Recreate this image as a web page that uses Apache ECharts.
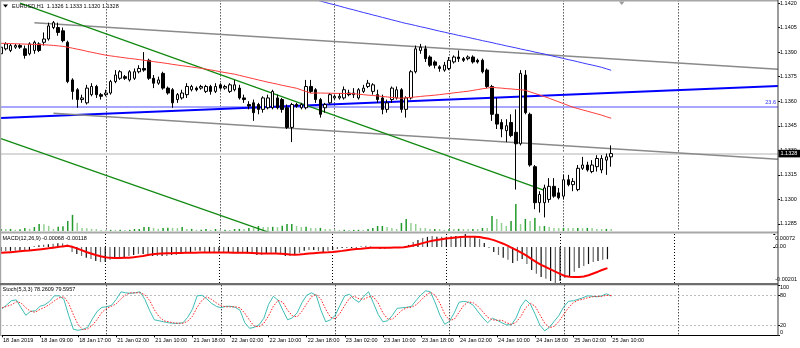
<!DOCTYPE html>
<html><head><meta charset="utf-8">
<script src="https://cdn.jsdelivr.net/npm/echarts@6/dist/echarts.min.js"></script>
<style>html,body{margin:0;padding:0;background:#fff}#c{width:800px;height:348px}</style>
</head><body><div id="c"></div>
<script>
// ---------- DATA ----------
const symbolTitle = 'EURUSD,H1  1.1326 1.1333 1.1320 1.1328';
const macdTitle = 'MACD(12,26,9) -0.00068 -0.00118';
const stochTitle = 'Stoch(5,3,3) 78.2609 79.5957';
const timeLabels = ['18 Jan 2019','18 Jan 09:00','18 Jan 17:00','21 Jan 02:00','21 Jan 10:00','21 Jan 18:00','22 Jan 02:00','22 Jan 10:00','22 Jan 18:00','23 Jan 02:00','23 Jan 10:00','23 Jan 18:00','24 Jan 02:00','24 Jan 10:00','24 Jan 18:00','25 Jan 02:00','25 Jan 10:00'];
const barsPerLabel = 8;
const slotCount = 164;          // visible bar slots incl. empty space on the right
const gridStartBar = 22, gridEveryBars = 24;
const priceTicks = [1.1285,1.1300,1.1315,1.1330,1.1345,1.1360,1.1375,1.1390,1.1405,1.1420];
const priceMin = 1.12807, priceMax = 1.14216;
const macdTicks = [0.00072, 0, -0.00201];
const macdTickLabels = ['0.00072','0.00','-0.00201'];
const macdMin = -0.00201, macdMax = 0.00072;
const stochTicks = [100, 80, 20, 0];
const stochLevels = [80, 20];
const fibLevel = 1.13565, fibLabel = '23.6';
const volumeAxisMax = 25000;

// open, high, low, close
const ohlc = [
[1.1389,1.1394,1.1388,1.1393],[1.1392,1.1396,1.1391,1.1395],[1.1391,1.1395,1.1390,1.1394],[1.1393,1.1395,1.1392,1.1394],[1.1394,1.1395,1.1392,1.1393],
[1.1392,1.1394,1.1386,1.1388],[1.1389,1.1396,1.1388,1.1395],[1.1391,1.1397,1.1389,1.1396],[1.1395,1.1396,1.1390,1.1391],[1.1396,1.1402,1.1394,1.1398],
[1.1398,1.1408,1.1397,1.1406],[1.1405,1.1409,1.1404,1.1408],[1.1405,1.1408,1.1400,1.1402],[1.1403,1.1405,1.1396,1.1397],[1.1396,1.1397,1.1371,1.1372],
[1.1373,1.1374,1.1361,1.1366],[1.1367,1.1368,1.1356,1.1361],[1.1361,1.1364,1.1359,1.1362],[1.1359,1.1370,1.1358,1.1368],[1.1364,1.1371,1.1363,1.1369],
[1.1369,1.1370,1.1362,1.1364],[1.1364,1.1365,1.1361,1.1363],[1.1364,1.1367,1.1363,1.1365],[1.1365,1.1373,1.1364,1.1372],[1.1372,1.1379,1.1371,1.1376],
[1.1374,1.1379,1.1373,1.1378],[1.1375,1.1376,1.1373,1.1374],[1.1373,1.1379,1.1372,1.1378],[1.1374,1.1380,1.1373,1.1378],[1.1378,1.1382,1.1377,1.1380],
[1.1380,1.1390,1.1378,1.1379],[1.1385,1.1386,1.1373,1.1374],[1.1374,1.1376,1.1368,1.1371],[1.1371,1.1375,1.1370,1.1373],[1.1377,1.1378,1.1367,1.1368],
[1.1368,1.1369,1.1364,1.1365],[1.1367,1.1368,1.1356,1.1359],[1.1361,1.1365,1.1359,1.1364],[1.1362,1.1367,1.1361,1.1365],[1.1364,1.1371,1.1362,1.1369],
[1.1367,1.1370,1.1366,1.1369],[1.1368,1.1369,1.1366,1.1367],[1.1368,1.1370,1.1367,1.1369],[1.1366,1.1370,1.1365,1.1369],[1.1369,1.1370,1.1364,1.1366],
[1.1366,1.1371,1.1365,1.1369],[1.1370,1.1371,1.1367,1.1368],[1.1368,1.1370,1.1367,1.1369],[1.1366,1.1371,1.1365,1.1370],[1.1367,1.1373,1.1366,1.1370],
[1.1368,1.1370,1.1361,1.1362],[1.1362,1.1364,1.1359,1.1361],[1.1358,1.1360,1.1355,1.1357],[1.1359,1.1361,1.1348,1.1353],[1.1358,1.1359,1.1352,1.1355],
[1.1355,1.1363,1.1353,1.1362],[1.1356,1.1364,1.1355,1.1362],[1.1356,1.1367,1.1355,1.1366],[1.1362,1.1364,1.1355,1.1356],[1.1361,1.1362,1.1353,1.1355],
[1.1356,1.1358,1.1343,1.1344],[1.1344,1.1359,1.1335,1.1358],[1.1358,1.1359,1.1356,1.1357],[1.1356,1.1359,1.1355,1.1358],[1.1356,1.1373,1.1355,1.1369],
[1.1369,1.1373,1.1365,1.1366],[1.1367,1.1368,1.1359,1.1361],[1.1361,1.1362,1.1350,1.1352],[1.1356,1.1359,1.1353,1.1358],[1.1359,1.1365,1.1358,1.1364],
[1.1362,1.1364,1.1361,1.1363],[1.1362,1.1365,1.1361,1.1363],[1.1362,1.1369,1.1361,1.1367],[1.1365,1.1367,1.1363,1.1364],[1.1364,1.1368,1.1362,1.1365],
[1.1362,1.1368,1.1361,1.1367],[1.1366,1.1370,1.1365,1.1368],[1.1369,1.1373,1.1368,1.1371],[1.1366,1.1371,1.1364,1.1370],[1.1364,1.1367,1.1359,1.1361],
[1.1362,1.1364,1.1352,1.1355],[1.1355,1.1361,1.1353,1.1359],[1.1361,1.1369,1.1359,1.1368],[1.1362,1.1369,1.1361,1.1367],[1.1367,1.1368,1.1353,1.1355],
[1.1355,1.1363,1.1350,1.1362],[1.1362,1.1379,1.1361,1.1378],[1.1378,1.1394,1.1377,1.1392],[1.1391,1.1395,1.1389,1.1393],[1.1392,1.1394,1.1384,1.1386],
[1.1387,1.1388,1.1381,1.1382],[1.1384,1.1385,1.1380,1.1382],[1.1381,1.1382,1.1378,1.1380],[1.1379,1.1384,1.1378,1.1382],[1.1380,1.1387,1.1379,1.1385],
[1.1384,1.1388,1.1383,1.1387],[1.1387,1.1391,1.1384,1.1386],[1.1386,1.1387,1.1384,1.1385],[1.1386,1.1388,1.1385,1.1387],[1.1387,1.1388,1.1383,1.1384],
[1.1385,1.1386,1.1383,1.1384],[1.1385,1.1386,1.1377,1.1378],[1.1379,1.1380,1.1368,1.1369],[1.1369,1.1370,1.1348,1.1352],[1.1352,1.1362,1.1343,1.1346],
[1.1347,1.1349,1.1338,1.1343],[1.1342,1.1349,1.1335,1.1345],[1.1347,1.1352,1.1338,1.1339],[1.1341,1.1355,1.1306,1.1334],[1.1334,1.1379,1.1333,1.1377],
[1.1376,1.1379,1.1352,1.1353],[1.1352,1.1353,1.1320,1.1321],[1.1320,1.1321,1.1294,1.1298],[1.1298,1.1305,1.1292,1.1303],[1.1298,1.1309,1.1289,1.1307],
[1.1300,1.1313,1.1298,1.1308],[1.1308,1.1313,1.1301,1.1302],[1.1304,1.1307,1.1300,1.1301],[1.1302,1.1315,1.1300,1.1312],[1.1312,1.1315,1.1308,1.1309],
[1.1309,1.1313,1.1305,1.1311],[1.1306,1.1321,1.1305,1.1319],[1.1319,1.1326,1.1318,1.1321],[1.1321,1.1323,1.1317,1.1318],[1.1317,1.1324,1.1316,1.1321],
[1.1320,1.1327,1.1317,1.1325],[1.1318,1.1327,1.1316,1.1325],[1.1324,1.1328,1.1315,1.1326],[1.1326,1.1333,1.1320,1.1328]
];

const volumes = [
220,210,230,120,200,330,240,430,760,740,
560,230,450,520,1080,1750,880,330,310,230,
210,120,110,130,120,140,110,120,220,230,
430,440,330,240,320,340,330,310,430,220,
230,120,130,210,110,220,120,130,110,220,
230,210,330,320,540,440,430,450,420,560,
760,770,540,430,450,330,320,340,230,220,
120,110,130,110,120,130,110,220,330,540,
550,440,330,220,870,1300,880,760,330,320,
220,230,210,120,220,210,230,220,210,230,
220,330,320,1620,1300,870,540,1080,2920,760,
1300,1080,1400,540,550,430,330,320,340,330,
320,330,310,330,320,220,210,230,220
];

const maRed = [
1.13954,1.13953,1.13952,1.13951,1.1395,1.13949,1.13948,1.13947,1.13946,1.13945,
1.13943,1.13941,1.13938,1.13935,1.1393,
1.13924,1.13918,1.13912,1.13905,1.13899,1.13893,1.13887,1.13881,
1.13877,1.13873,1.13869,1.13865,1.13861,1.13858,1.13854,1.1385,
1.13846,1.13842,1.13838,1.13834,1.1383,1.13825,1.13821,1.13817,1.13813,1.13809,1.13805,1.13801,
1.13796,1.13791,1.13786,1.1378,1.13775,1.1377,1.13765,
1.13758,1.13751,1.13744,1.13737,1.1373,1.13723,1.13716,
1.1371,1.13704,1.13697,1.13691,1.13685,1.13679,
1.13669,1.13659,1.13649,
1.1365,1.1365,1.13649,1.13649,1.13648,1.13648,1.13647,1.13647,
1.13646,1.13643,1.1364,1.13637,1.13635,1.13632,1.13629,1.13626,1.13623,1.1362,1.13618,
1.13621,1.13623,1.13626,1.13629,1.13632,1.13634,1.13637,
1.1364,1.13644,1.13647,1.13651,1.13654,1.13658,1.13661,
1.13666,1.13671,1.13676,1.1368,1.13685,
1.13682,1.1368,1.13677,1.13675,1.13672,1.1367,1.13667,
1.13657,1.13647,1.13638,1.13628,1.13618,
1.13607,1.13596,1.13585,1.13574,1.13563,
1.13555,1.13547,1.13539,1.13531,1.13523,1.13515,
1.13505,1.13496
];

const maBlueStart = 55;
const maBlue = [
1.14304,1.14296,1.14288,1.14281,1.14273,1.14265,1.14258,1.1425,1.14243,1.14235,
1.14227,1.1422,1.14212,1.14204,1.14196,1.14189,1.14181,1.14173,1.14165,1.14158,
1.1415,1.14142,1.14135,1.14127,1.1412,1.14112,1.14105,1.14097,1.1409,1.14082,
1.14075,1.14069,1.14062,1.14055,1.14049,1.14042,1.14035,1.14028,1.14022,1.14015,
1.14009,1.14002,1.13996,1.1399,1.13983,1.13977,1.1397,1.13964,1.13958,1.13951,
1.13945,1.13938,1.13932,1.13926,1.13919,1.13913,1.13907,1.139,1.13894,1.13888,
1.13881,1.13874,1.13868,1.13861,1.13854,1.13848,1.13841,1.13834,1.13827,1.13821,
1.13814,1.13807,1.13798,1.13789
];

const macdMain = [
-0.00024,-0.00023,-0.00022,-0.00021,-0.0002,-0.0002,-0.00018,0.00005,0.0001,0.00012,
0.00015,0.00018,0.0002,0.0002,0.00012,-0.00028,-0.00039,-0.0005,-0.00061,-0.00067,
-0.00078,-0.00084,-0.00084,-0.00072,-0.00061,-0.00056,-0.00056,-0.0005,-0.00045,-0.00039,
-0.00039,-0.00045,-0.0005,-0.0005,-0.0005,-0.0005,-0.00045,-0.00045,-0.00039,-0.00033,
-0.00028,-0.00022,-0.00022,-0.00028,-0.00028,-0.00028,-0.00028,-0.0003,-0.0003,-0.00033,
-0.00033,-0.00035,-0.00037,-0.00039,-0.00045,-0.00045,-0.00039,-0.00033,-0.00033,-0.00039,
-0.0005,-0.0005,-0.00045,-0.00033,-0.00022,-0.00017,-0.00017,-0.00022,-0.00028,-0.00022,
-0.00017,-0.00011,-0.00006,-0.00006,-0.00006,-0.00006,0.00002,0.00006,0.00002,-0.00006,
-0.00011,-0.00011,-0.00006,-0.00006,-0.00006,0,0.00011,0.00028,0.00039,0.0005,
0.00056,0.00061,0.00056,0.00056,0.00056,0.00061,0.00061,0.00061,0.00072,0.00061,
0.00056,0.00045,0.00022,-0.00006,-0.00028,-0.00045,-0.00061,-0.00072,-0.00089,-0.00078,
-0.00067,-0.00095,-0.00128,-0.0015,-0.00167,-0.00178,-0.0019,-0.00201,-0.0019,-0.00173,
-0.00162,-0.00139,-0.00117,-0.00106,-0.00095,-0.00084,-0.00078,-0.00072,-0.00068
];

const macdSignal = [
-0.00033,-0.00031,-0.00029,-0.00027,-0.00024,-0.00022,-0.0002,-0.00017,-0.00014,-0.00011,
-0.00008,-0.00004,-0.00001,0.00003,0.00006,0.00001,-0.00008,-0.00018,-0.00028,-0.00037,
-0.00045,-0.00052,-0.00058,-0.00061,-0.00062,-0.00062,-0.00061,-0.0006,-0.00058,-0.00054,
-0.0005,-0.00045,-0.00041,-0.00038,-0.00036,-0.00035,-0.00035,-0.00034,-0.00034,-0.00033,
-0.00033,-0.00032,-0.00031,-0.00031,-0.00031,-0.00031,-0.00031,-0.00031,-0.00031,-0.00032,
-0.00032,-0.00033,-0.00033,-0.00034,-0.00035,-0.00036,-0.00037,-0.00037,-0.00037,-0.00038,
-0.0004,-0.00042,-0.00043,-0.00042,-0.0004,-0.00037,-0.00035,-0.00033,-0.00031,-0.0003,
-0.00028,-0.00025,-0.00022,-0.00018,-0.00015,-0.00012,-0.0001,-0.00007,-0.00005,-0.00004,
-0.00004,-0.00004,-0.00004,-0.00003,-0.00003,-0.00002,0.00002,0.00008,0.00014,0.00021,
0.00028,0.00034,0.00039,0.00043,0.00047,0.0005,0.00053,0.00055,0.00057,0.00057,
0.00057,0.00055,0.0005,0.00045,0.00038,0.00028,0.00018,0.00006,-0.00008,-0.0002,
-0.00035,-0.0005,-0.00068,-0.00085,-0.001,-0.00112,-0.00125,-0.00138,-0.0015,-0.00162,
-0.00166,-0.00167,-0.00167,-0.00165,-0.00158,-0.00148,-0.00138,-0.00127,-0.00118
];

const stochMain = [
53,61,69,71,55,40,48,49,58,61,
68,79,79,72,40,12,10,12,16,33,
48,56,57,60,72,87,85,84,85,87,
72,50,31,29,27,25,24,24,25,36,
52,79,80,73,64,58,55,58,58,56,
50,25,14,16,21,34,62,78,70,50,
31,35,45,65,80,85,80,50,27,31,
40,60,79,82,72,66,78,87,65,42,
27,29,40,54,55,56,58,70,81,89,
87,65,40,22,28,45,66,68,66,60,
47,35,25,34,30,25,21,21,35,58,
71,62,42,20,9,16,28,40,57,68,
69,72,75,79,78,77,79,83,78.2609
];

const stochSignal = [
55,58,61,67,65,55,48,46,52,56,
62,69,75,77,64,41,21,11,13,20,
32,46,54,58,63,73,81,85,85,85,
81,70,51,37,29,27,25,24,24,28,
38,56,70,77,72,65,59,57,57,57,
55,44,30,18,17,24,39,58,70,66,
50,39,37,48,63,77,82,72,52,36,
33,44,60,74,78,73,72,77,77,65,
45,33,32,41,50,55,56,61,70,80,
86,80,64,42,30,32,46,60,67,65,
58,47,36,31,30,30,25,22,26,38,
55,64,58,41,24,15,18,28,42,55,
65,70,72,75,77,78,78,80,79.5957
];

// drawn objects: [bar slot, price]
const trendBlue = [[0, 1.13497], [163, 1.13693]];
const channelUpper = [[7, 1.14080], [163, 1.13795]];
const channelLower = [[11, 1.13527], [163, 1.13246]];
const greenUpper = [[4, 1.14199], [114, 1.13055]];
const greenLower = [[0, 1.13371], [60, 1.12760]];

// ---------- CHART ----------
const FONT = '"Liberation Sans", Arial, sans-serif';
const FS = 5.5;
const categories = Array.from({length: slotCount}, (_, i) => String(i));
const isLabelSlot = i => i % barsPerLabel === 0 && i / barsPerLabel < timeLabels.length;
const candleData = ohlc.map(d => [d[0], d[3], d[2], d[1]]);
const volData = volumes.map((v, i) => ({value: v, itemStyle: {color: (i > 0 && v < volumes[i-1]) ? '#92d092' : '#22992a'}}));
const macdData = macdMain.map((v, i) => ({value: v, itemStyle: {color: i % 2 ? '#6a6a6a' : '#111111'}}));
const blueData = ohlc.map((_, i) => i >= maBlueStart ? maBlue[i - maBlueStart] : null);
const lastClose = ohlc[ohlc.length - 1][3];

const grids = [
  {left: 1, right: 22, top: 0, height: 231},
  {left: 1, right: 22, top: 234, height: 49},
  {left: 1, right: 22, top: 285.3, height: 50}
];

function xAxisFor(gi, showLabels) {
  return {
    type: 'category', gridIndex: gi, data: categories, boundaryGap: false, show: true,
    axisLine: {show: showLabels, lineStyle: {color: '#000', width: 1}},
    axisTick: {show: showLabels, length: 2, interval: (i) => isLabelSlot(i), lineStyle: {color: '#000'}},
    axisLabel: {show: showLabels, interval: (i) => isLabelSlot(i), align: 'left', margin: 2, padding: [0,0,0,1],
      fontSize: FS, fontFamily: FONT, color: '#000',
      formatter: (v, i) => isLabelSlot(Number(v)) ? timeLabels[Number(v) / barsPerLabel] : ''},
    splitLine: {show: true, interval: (i) => i >= gridStartBar && (i - gridStartBar) % gridEveryBars === 0,
      lineStyle: {color: '#000', width: 1, type: [1, 2]}}
  };
}

const labelStyle = {fontSize: FS, fontFamily: FONT, color: '#000'};

const option = {
  animation: false,
  backgroundColor: '#fff',
  grid: grids,
  xAxis: [xAxisFor(0, false), xAxisFor(1, false), xAxisFor(2, true)],
  yAxis: [
    {type: 'value', gridIndex: 0, position: 'right', min: priceMin, max: priceMax,
      axisLine: {show: false}, splitLine: {show: false},
      axisTick: {show: true, length: 2, customValues: priceTicks, lineStyle: {color: '#000'}},
      axisLabel: Object.assign({customValues: priceTicks, margin: 2, formatter: v => v.toFixed(4)}, labelStyle)},
    {type: 'value', gridIndex: 0, min: 0, max: volumeAxisMax, show: false},
    {type: 'value', gridIndex: 1, position: 'right', min: macdMin, max: macdMax,
      axisLine: {show: false}, splitLine: {show: false},
      axisTick: {show: true, length: 2, customValues: macdTicks, lineStyle: {color: '#000'}},
      axisLabel: Object.assign({customValues: macdTicks, margin: 2,
        formatter: v => {
          const k = macdTicks.findIndex(t => Math.abs(t - v) < 1e-9);
          const s = k >= 0 ? macdTickLabels[k] : '';
          return k === 0 ? '{t|' + s + '}' : (k === macdTicks.length - 1 ? '{b|' + s + '}' : s);
        },
        rich: {t: Object.assign({padding: [8,0,0,0]}, labelStyle), b: Object.assign({padding: [0,0,7,0]}, labelStyle)}}, labelStyle)},
    {type: 'value', gridIndex: 2, position: 'right', min: 0, max: 100,
      axisLine: {show: false}, splitLine: {show: false},
      axisTick: {show: true, length: 2, customValues: stochTicks, lineStyle: {color: '#000'}},
      axisLabel: Object.assign({customValues: stochTicks, margin: 2,
        formatter: v => v === 100 ? '{t|100}' : (v === 0 ? '{b|0}' : String(v)),
        rich: {t: Object.assign({padding: [5,0,0,0]}, labelStyle), b: Object.assign({padding: [0,0,6,0]}, labelStyle)}}, labelStyle)}
  ],
  series: [
    {type: 'bar', name: 'Volume', xAxisIndex: 0, yAxisIndex: 1, data: volData, barWidth: 1.5, z: 1, silent: true},
    {type: 'line', name: 'Trend', xAxisIndex: 0, yAxisIndex: 0, data: trendBlue, symbol: 'none', clip: true, z: 2,
      lineStyle: {color: '#0000ff', width: 2}, silent: true},
    {type: 'line', name: 'ChannelUpper', xAxisIndex: 0, yAxisIndex: 0, data: channelUpper, symbol: 'none', clip: true, z: 2,
      lineStyle: {color: '#8a8a8a', width: 1.5}, silent: true},
    {type: 'line', name: 'ChannelLower', xAxisIndex: 0, yAxisIndex: 0, data: channelLower, symbol: 'none', clip: true, z: 2,
      lineStyle: {color: '#8a8a8a', width: 1.5}, silent: true},
    {type: 'line', name: 'GreenUpper', xAxisIndex: 0, yAxisIndex: 0, data: greenUpper, symbol: 'none', clip: true, z: 2,
      lineStyle: {color: '#128a12', width: 1.3}, silent: true},
    {type: 'line', name: 'GreenLower', xAxisIndex: 0, yAxisIndex: 0, data: greenLower, symbol: 'none', clip: true, z: 2,
      lineStyle: {color: '#128a12', width: 1.3}, silent: true},
    {type: 'candlestick', name: 'EURUSD', xAxisIndex: 0, yAxisIndex: 0, data: candleData, barWidth: 3, z: 3,
      itemStyle: {color: '#fff', color0: '#000', borderColor: '#000', borderColor0: '#000', borderWidth: 1}, silent: true,
      markLine: {silent: true, symbol: ['none', 'none'], animation: false, z: 1, precision: 6,
        data: [
          {yAxis: lastClose, lineStyle: {color: '#d9d9d9', width: 2, type: 'solid'}, label: {show: false}},
          {yAxis: fibLevel, lineStyle: {color: '#8a8aff', width: 1.5, type: 'solid'},
            label: {show: true, position: 'insideEndTop', formatter: fibLabel, color: '#2f2fff', fontSize: FS, fontFamily: FONT, distance: [2, 1]}}
        ]}},
    {type: 'line', name: 'MA red', xAxisIndex: 0, yAxisIndex: 0, data: maRed, symbol: 'none', z: 4,
      lineStyle: {color: '#ff3a3a', width: 1}, silent: true},
    {type: 'line', name: 'MA blue', xAxisIndex: 0, yAxisIndex: 0, data: blueData, symbol: 'none', z: 4, clip: true,
      lineStyle: {color: '#3a3aff', width: 1}, silent: true},
    {type: 'bar', name: 'MACD', xAxisIndex: 1, yAxisIndex: 2, data: macdData, barWidth: 1.2, silent: true},
    {type: 'line', name: 'Signal', xAxisIndex: 1, yAxisIndex: 2, data: macdSignal, symbol: 'none', z: 3,
      lineStyle: {color: '#ff0000', width: 2}, silent: true},
    {type: 'line', name: 'Stoch main', xAxisIndex: 2, yAxisIndex: 3, data: stochMain, symbol: 'none', z: 3,
      lineStyle: {color: '#3fbdb5', width: 1}, silent: true,
      markLine: {silent: true, symbol: ['none', 'none'], z: 1, precision: 2,
        lineStyle: {color: '#bdbdbd', width: 1, type: [2, 2]}, label: {show: false},
        data: stochLevels.map(v => ({yAxis: v}))}},
    {type: 'line', name: 'Stoch signal', xAxisIndex: 2, yAxisIndex: 3, data: stochSignal, symbol: 'none', z: 3,
      lineStyle: {color: '#ff2020', width: 1, type: [1.5, 1.5]}, silent: true}
  ]
};

const chart = echarts.init(document.getElementById('c'), null, {renderer: 'canvas'});
chart.setOption(option);

const py = chart.convertToPixel({yAxisIndex: 0}, lastClose);
const txt = (text, x, y, extra) => ({type: 'text', x, y, z: 100,
  style: Object.assign({text, fill: '#000', fontSize: FS, fontFamily: FONT, verticalAlign: 'middle', align: 'left'}, extra || {})});
chart.setOption({graphic: [
  {type: 'rect', z: 90, shape: {x: 0, y: 0, width: 778, height: 1.5}, style: {fill: '#a6a6a6'}},
  {type: 'rect', z: 90, shape: {x: 0, y: 0, width: 1.2, height: 336}, style: {fill: '#a6a6a6'}},
  {type: 'rect', z: 90, shape: {x: 0, y: 231.5, width: 778, height: 2}, style: {fill: '#a8a8a8'}},
  {type: 'rect', z: 90, shape: {x: 0, y: 283, width: 778, height: 2.3}, style: {fill: '#6e6e6e'}},
  {type: 'rect', z: 90, shape: {x: 777.5, y: 0, width: 1, height: 336}, style: {fill: '#3a3a3a'}},
  {type: 'polygon', z: 100, shape: {points: [[3, 4.5], [8, 4.5], [5.5, 7.5]]}, style: {fill: '#000'}},
  {type: 'polygon', z: 100, shape: {points: [[619, 1.5], [624.5, 1.5], [621.75, 5]]}, style: {fill: '#9a9a9a'}},
  txt(symbolTitle, 12, 6.5),
  txt(macdTitle, 2.5, 238.5),
  txt(stochTitle, 2.5, 289.5),
  {type: 'rect', z: 100, shape: {x: 778.5, y: py - 3.8, width: 22, height: 7.6}, style: {fill: '#000'}},
  txt(lastClose.toFixed(4), 780.5, py, {fill: '#fff'})
]});
</script>
</body></html>
